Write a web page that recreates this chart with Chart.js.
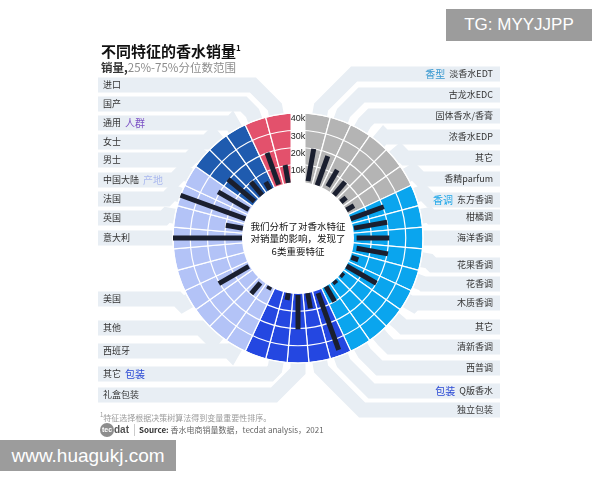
<!DOCTYPE html>
<html>
<head>
<meta charset="utf-8">
<script src="https://cdn.jsdelivr.net/npm/chart.js@4.4.1/dist/chart.umd.min.js"></script>
<style>
  body { margin: 0; width: 600px; height: 480px; background: #fff; position: relative; overflow: hidden;
         font-family: "Noto Sans CJK SC", "Noto Sans", sans-serif; }
  #chart { position: absolute; left: 0; top: 0; }
  .t { position: absolute; white-space: nowrap; }
  #title { left: 101px; top: 40px; font-size: 15px; line-height: 16px; font-weight: bold; color: #111; }
  #title sup { font-size: 8px; vertical-align: 6px; }
  #sub { left: 101px; top: 60px; font-size: 11.5px; line-height: 14px; color: #8c8c8c; }
  #sub b { color: #333; }
  #note { left: 100px; top: 410px; font-size: 8px; line-height: 10px; color: #9a9a9a; }
  #src { left: 100px; top: 423px; font-size: 8px; line-height: 14px; color: #666; display: flex; align-items: center; }
  #src .logo { width: 14px; height: 14px; border-radius: 7px; background: #8d8d8d; color: #fff; font-size: 7px;
               font-weight: bold; text-align: center; line-height: 14px; font-family: "Liberation Sans", sans-serif; }
  #src .dat { font-size: 10px; font-weight: bold; color: #555; margin: 0 4px 0 0; font-family: "Liberation Sans", sans-serif; }
  #src .sep { width: 1px; height: 12px; background: #ccc; margin: 0 4px 0 1px; }
  .wm { position: absolute; background: #9c9c9c; color: #fff; font-family: "Liberation Sans", Arial, sans-serif; }
  #wm1 { left: 446px; top: 9px; width: 146px; height: 32px; line-height: 32px; font-size: 17px; text-align: center; }
  #wm2 { left: 0; top: 440px; width: 176px; height: 31px; line-height: 31px; font-size: 19px; text-align: center; }
</style>
</head>
<body>
<canvas id="chart" width="600" height="480"></canvas>
<div class="t" id="title">不同特征的香水销量<sup>1</sup></div>
<div class="t" id="sub"><b>销量,</b>25%-75%分位数范围</div>
<div class="t" id="note"><sup style="font-size:6px">1</sup>特征选择根据决策树算法得到变量重要性排序。</div>
<div class="t" id="src"><span class="logo">tec</span><span class="dat">dat</span><span class="sep"></span><b style="color:#333">Source:</b>&nbsp;香水电商销量数据，tecdat analysis，2021</div>
<div class="wm" id="wm1">TG: MYYJJPP</div>
<div class="wm" id="wm2">www.huagukj.com</div>
<script>
// one entry per 10° slot, clockwise from the top; '' = empty slot
const categories = ['淡香水EDT', '古龙水EDC', '固体香水/香膏', '浓香水EDP', '其它', '香精parfum',
  '东方香调', '柑橘调', '海洋香调', '花果香调', '花香调', '木质香调', '其它', '清新香调', '西普调',
  'Q版香水', '独立包装', '礼盒包装', '其它', '',
  '西班牙', '其他', '', '美国', '', '', '意大利', '英国', '法国', '中国大陆',
  '男士', '女士', '通用', '国产', '进口'];
const groups = ['香型', '香型', '香型', '香型', '香型', '香型',
  '香调', '香调', '香调', '香调', '香调', '香调', '香调', '香调', '香调',
  '包装', '包装', '包装', '包装', '包装',
  '产地', '产地', '产地', '产地', '产地', '产地', '产地', '产地', '产地', '产地',
  '人群', '人群', '人群', '来源', '来源'];
// sales, 25% and 75% quantiles
const q25 = [1000, 0, 2000, 0, 0, 0,
  0, 500, 1500, 2000, 500, 0, 0, 0, 0,
  1500, 0, 500, 0, null,
  0, 1500, null, 500, null, null, 0, 0, 0, 500,
  500, 0, 0, 500, 0];
const q75 = [20000, 18000, 13000, 10000, 4000, 5000,
  20500, 20000, 20500, 20500, 4700, 20000, 2000, 2000, 10000,
  36500, 9000, 20500, 4000, null,
  2000, 9700, null, 20500, null, null, 40000, 10000, 40000, 21000,
  20500, 10000, 5000, 20000, 10500];
const tickValues = [10000, 20000, 30000, 40000];
const maxValue = 40000;

const groupColors = { '香型': '#b4b4b4', '香调': '#0aa5ee', '包装': '#2447e1', '产地': '#b3c3f7', '人群': '#1f5baf', '来源': '#e3516c' };
const tagColors = { '香型': '#3898cf', '香调': '#1ca6e8', '包装': '#2a49d4', '产地': '#aab8ee', '人群': '#7a4fc4' };
// group tag shown next to the first label of each group
const tagAt = { 0: '香型', 6: '香调', 15: '包装', 18: '包装', 29: '产地', 32: '人群' };

// layout: label row centre (y) for each category
const rowY = [74, 95, 116, 137, 158, 179, 200, 217, 238, 265, 284, 303, 327, 347, 368, 391, 410,
  395, 374, null, 351, 328, null, 299, null, null, 238, 218, 199, 180, 160, 142, 123, 104, 85];
const rowColor = '#e8eef4';

const labels = [''].concat(categories);

const deco = {
  id: 'deco',
  beforeDraw(chart) {
    const s = chart.scales.r;
    const ctx = chart.ctx;
    ctx.save();
    ctx.strokeStyle = rowColor;
    ctx.lineWidth = 15;
    ctx.lineJoin = 'miter';
    categories.forEach((c, i) => {
      if (!c) return;
      const j = i + 1, y = rowY[i], right = i < 17;
      const p1 = s.getPointPosition(j, s.getDistanceFromCenterForValue(30000));
      const p2 = s.getPointPosition(j, s.drawingArea + 8);
      const dy = Math.abs(p2.y - y);
      const x3 = right ? p2.x + dy : p2.x - dy;
      ctx.beginPath();
      ctx.moveTo(right ? 500 : 98, y);
      ctx.lineTo(x3, y);
      ctx.lineTo(p2.x, p2.y);
      ctx.lineTo(p1.x, p1.y);
      ctx.stroke();
    });
    ctx.textBaseline = 'middle';
    categories.forEach((c, i) => {
      if (!c) return;
      const y = rowY[i], right = i < 17, tag = tagAt[i];
      ctx.font = '9px "Noto Sans CJK SC"';
      ctx.fillStyle = '#333';
      if (right) {
        ctx.textAlign = 'right';
        ctx.fillText(c, 493, y);
        if (tag) {
          const w = ctx.measureText(c).width;
          ctx.font = '10px "Noto Sans CJK SC"';
          ctx.fillStyle = tagColors[tag];
          ctx.fillText(tag, 493 - w - 4, y);
        }
      } else {
        ctx.textAlign = 'left';
        ctx.fillText(c, 103, y);
        if (tag) {
          const w = ctx.measureText(c).width;
          ctx.font = '10px "Noto Sans CJK SC"';
          ctx.fillStyle = tagColors[tag];
          ctx.fillText(tag, 103 + w + 4, y);
        }
      }
    });
    ctx.restore();
  },
  afterDatasetsDraw(chart) {
    const s = chart.scales.r;
    const ctx = chart.ctx;
    ctx.save();
    ctx.fillStyle = '#fff';
    ctx.beginPath();
    ctx.arc(s.xCenter, s.yCenter, s.getDistanceFromCenterForValue(0), 0, Math.PI * 2);
    ctx.fill();
    ctx.restore();
  },
  afterDraw(chart) {
    const s = chart.scales.r;
    const ctx = chart.ctx;
    ctx.save();
    ctx.strokeStyle = '#1a1f2f';
    ctx.lineWidth = 5;
    ctx.lineCap = 'butt';
    categories.forEach((c, i) => {
      if (q25[i] === null) return;
      const a = s.getPointPosition(i + 1, s.getDistanceFromCenterForValue(q25[i]));
      const b = s.getPointPosition(i + 1, s.getDistanceFromCenterForValue(q75[i]));
      ctx.beginPath();
      ctx.moveTo(a.x, a.y);
      ctx.lineTo(b.x, b.y);
      ctx.stroke();
    });
    ctx.fillStyle = '#111';
    ctx.font = '9.5px "Noto Sans CJK SC"';
    ctx.textAlign = 'center';
    ctx.textBaseline = 'middle';
    ['我们分析了对香水特征', '对销量的影响，发现了', '6类重要特征'].forEach((line, k) => {
      ctx.fillText(line, s.xCenter, s.yCenter - 12 + k * 12.5);
    });
    ctx.restore();
  }
};

new Chart(document.getElementById('chart'), {
  type: 'polarArea',
  data: {
    labels: labels,
    datasets: [{
      data: categories.map(() => maxValue),
      backgroundColor: groups.map(g => groupColors[g]),
      borderColor: '#fff',
      borderWidth: 1.2,
      // first and last slot also fill half of the axis slot at the top
      angle: ctx => (ctx.dataIndex === 0 || ctx.dataIndex === categories.length - 1) ? 15 : 10
    }]
  },
  options: {
    responsive: false,
    animation: false,
    layout: { padding: { left: 169, right: 172, top: 109, bottom: 112 } },
    plugins: { legend: { display: false }, tooltip: { enabled: false } },
    scales: {
      r: {
        min: -32464,
        max: maxValue,
        startAngle: 0,
        afterBuildTicks: scale => { scale.ticks = tickValues.map(v => ({ value: v })); },
        grid: { color: '#fff', lineWidth: 1.2, circular: true, z: 1 },
        angleLines: { display: true, color: '#fff', lineWidth: ctx => ctx.index === 0 ? 15 : 0 },
        pointLabels: { display: false },
        ticks: {
          z: 1,
          color: '#222',
          font: { size: 9, lineHeight: 0.65, family: '"Liberation Sans", sans-serif' },
          backdropPadding: 0,
          showLabelBackdrop: false,
          callback: v => ['', v / 1000 + 'k']
        }
      }
    }
  },
  plugins: [deco]
});
</script>
</body>
</html>
